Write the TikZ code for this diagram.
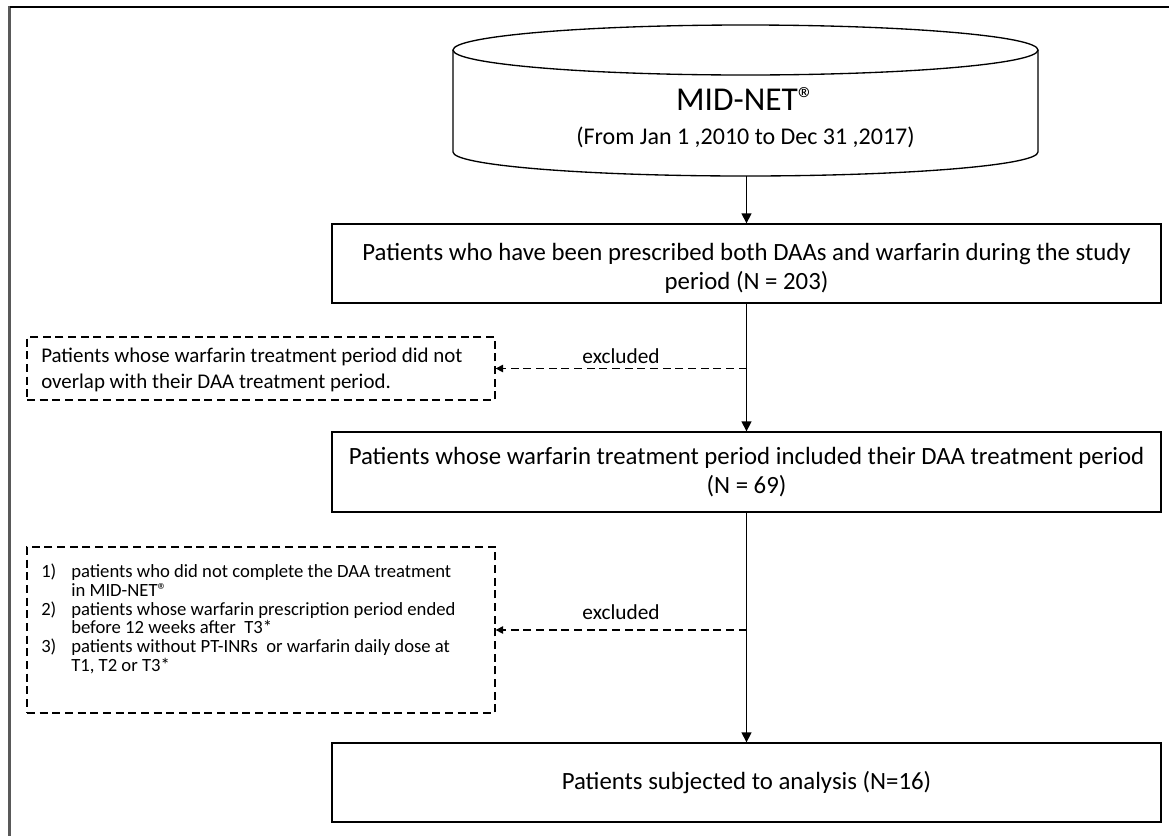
\documentclass[tikz,border=0pt]{standalone}
\usepackage{fontspec}
\setmainfont{Carlito}
\usetikzlibrary{arrows.meta}
\newcommand\regmark{®}
\begin{document}
\begin{tikzpicture}[x=0.75pt,y=-0.75pt,
  box/.style={draw, line width=1pt, minimum width=621.75pt, align=center, inner sep=0pt},
  dbox/.style={draw, line width=1pt, dash pattern=on 6pt off 3.5pt},
  arr/.style={line width=1pt, -{Triangle[width=7.5pt,length=7.5pt]}},
  darr/.style={line width=1pt, dash pattern=on 6pt off 3.5pt, -{Triangle[width=5.5pt,length=5.5pt]}},
  bfont/.style={font=\fontsize{18.6}{22}\selectfont},
  lfont/.style={font=\fontsize{16}{19}\selectfont}]
\useasboundingbox (0,0) rectangle (1169,836);
% frame
\draw[line width=2pt, black!65] (9.5,6) -- (9.5,836);
\draw[line width=1.6pt] (9.5,7) -- (1169,7);
% database cylinder
\draw[line width=1pt, fill=white] (453,50) -- (453,152) arc[start angle=180, end angle=360, x radius=219.375pt, y radius=18pt] -- (1038,50);
\draw[line width=1pt] (745.5,50) ellipse [x radius=219.375pt, y radius=18.75pt];
\node[minimum width=438.75pt, minimum height=114pt, inner sep=0pt] (db) at (745.5,100) {};
\node[font=\fontsize{25}{30}\selectfont] (dbt) at (745.5,99) {MID-NET\regmark};
\node[font=\fontsize{18}{22}\selectfont] (dbd) at (745.5,137) {(From Jan 1 ,2010 to Dec 31 ,2017)};
% boxes
\node[box, minimum height=59.25pt,
  label={[name=b1t, bfont, align=center, yshift=-3.75pt]center:{Patients who have been prescribed both DAAs and warfarin during the study\\period (N = 203)}}] (b1) at (746.5,263.5) {};
\node[box, bfont, minimum height=60pt] (b2) at (746.5,472) {Patients whose warfarin treatment period included their DAA treatment period\\(N = 69)};
\node[box, bfont, minimum height=59.25pt] (b3) at (746.5,782.5) {Patients subjected to analysis (N=16)};
% excluded boxes
\node[dbox, minimum width=351pt, minimum height=47.25pt] (d1) at (261,368.5) {};
\node[anchor=west, inner sep=0pt, align=left, font=\fontsize{15.7}{19.5}\selectfont] (d1t) at (41,370) {Patients whose warfarin treatment period did not\\overlap with their DAA treatment period.};
\node[dbox, minimum width=351pt, minimum height=124.5pt] (d2) at (261,630) {};
\node[anchor=north west, inner sep=0pt, font=\fontsize{14}{13.4}\selectfont] (d2t) at (41,564) {%
\begin{tabular}{@{}p{22.5pt}@{}l@{}}
1) & patients who did not complete the DAA treatment\\
   & in MID-NET\regmark\\
2) & patients whose warfarin prescription period ended\\
   & before 12 weeks after\ \ T3*\\
3) & patients without PT-INRs\ \ or warfarin daily dose at\\
   & T1, T2 or T3*
\end{tabular}};
% connectors
\draw[arr] (db.south -| b1.north) -- (b1.north);
\draw[arr] (b1.south) -- (b2.north);
\draw[arr] (b2.south) -- (b3.north);
\coordinate (e1) at (b1.south |- d1.east);
\coordinate (e2) at (b2.south |- d2.east);
\draw[darr] (e1) -- (d1.east) node[midway, anchor=center, lfont, inner sep=0pt, yshift=9pt] (x1) {excluded};
\draw[darr] (e2) -- (d2.east) node[midway, anchor=center, lfont, inner sep=0pt, yshift=13.5pt] (x2) {excluded};
\end{tikzpicture}
\end{document}
